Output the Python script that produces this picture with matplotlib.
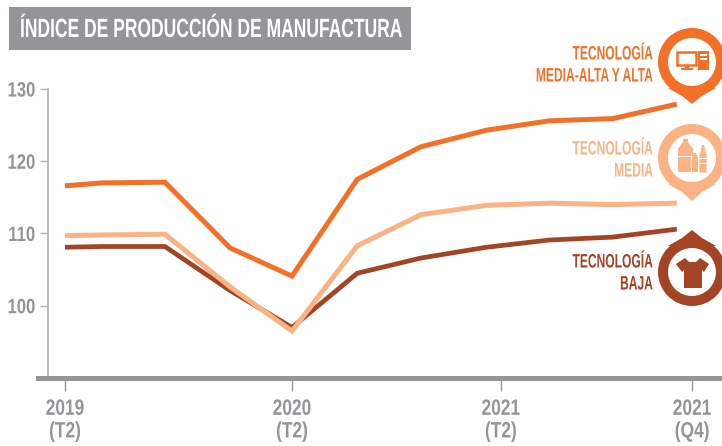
import matplotlib
matplotlib.use('Agg')
import matplotlib.pyplot as plt
from matplotlib.patches import Circle, Polygon, Rectangle, FancyBboxPatch
from matplotlib.patheffects import AbstractPathEffect
from matplotlib.transforms import Affine2D

W, H = 722, 446
GREY = '#939598'
ORANGE = '#F37029'
PEACH = '#FBB385'
BROWN = '#A34425'

# trimestres (posicion en el eje, en trimestres desde 2019 T2)
quarters = [0, 0.65, 1.76, 2.91, 4, 5.15, 6.27, 7.43, 8.54, 9.65, 10.78]
alta = [116.6, 117.0, 117.1, 108.0, 104.1, 117.5, 122.0, 124.3, 125.6, 125.9, 127.9]
media = [109.7, 109.8, 109.9, 102.6, 96.5, 108.3, 112.6, 113.9, 114.2, 114.0, 114.2]
baja = [108.1, 108.2, 108.2, 102.1, 97.0, 104.5, 106.6, 108.1, 109.1, 109.5, 110.6]

y_ticks = [100, 110, 120, 130]
x_ticks = [0, 4, 7.68, 11.05]
x_labels = ['2019\n(T2)', '2020\n(T2)', '2021\n(T2)', '2021\n(Q4)']

plt.rcParams['font.family'] = ['Liberation Sans', 'DejaVu Sans']
plt.rcParams['font.weight'] = 'bold'


# no hay fuente condensada: se comprime el texto en x alrededor de x0 (pixeles)
class Squeeze(AbstractPathEffect):
    def __init__(self, x0, sx):
        super().__init__()
        self.x0 = x0
        self.sx = sx

    def draw_path(self, renderer, gc, tpath, affine, rgbFace=None):
        t = affine + Affine2D().translate(-self.x0, 0).scale(self.sx, 1).translate(self.x0, 0)
        renderer.draw_path(gc, tpath, t, rgbFace)


fig = plt.figure(figsize=(W / 100, H / 100), dpi=100)

# eje principal: pixeles x 38-722, y 89-378
ax = fig.add_axes([38 / W, 1 - 378 / H, (W - 38) / W, (378 - 89) / H])
px_q = 56.75
ax.set_xlim((38 - 65) / px_q, (722 - 65) / px_q)
ax.set_ylim(90, 130)
ax.patch.set_visible(False)

ax.plot(quarters, baja, color=BROWN, lw=3.4, solid_capstyle='butt', solid_joinstyle='miter')
ax.plot(quarters, alta, color=ORANGE, lw=3.6, solid_capstyle='butt', solid_joinstyle='miter')
ax.plot(quarters, media, color=PEACH, lw=3.6, solid_capstyle='butt', solid_joinstyle='miter')

for s in ['top', 'right']:
    ax.spines[s].set_visible(False)
ax.spines['left'].set_position(('data', (48 - 65) / px_q))
ax.spines['left'].set_color('#B5B5B7')
ax.spines['left'].set_linewidth(1.3)
ax.spines['bottom'].set_color(GREY)
ax.spines['bottom'].set_linewidth(3.6)

ax.set_yticks(y_ticks)
ax.set_xticks(x_ticks)
ax.set_xticklabels(x_labels, linespacing=1.1)
ax.tick_params(axis='y', length=6, width=1, color='#B5B5B7', labelcolor=GREY, labelsize=15, pad=3)
ax.tick_params(axis='x', length=9, width=1, color=GREY, labelcolor=GREY, labelsize=16, pad=6)

for t in ax.get_yticklabels():
    t.set_path_effects([Squeeze(35.5, 0.8)])
for t, q in zip(ax.get_xticklabels(), x_ticks):
    t.set_path_effects([Squeeze(65 + q * px_q, 0.78)])

# capa en pixeles para titulo, etiquetas e iconos
ov = fig.add_axes([0, 0, 1, 1])
ov.set_xlim(0, W)
ov.set_ylim(H, 0)
ov.axis('off')
ov.patch.set_visible(False)

ov.add_patch(Rectangle((9, 7), 402, 43, color=GREY, lw=0))
title = ov.text(20, 30, 'ÍNDICE DE PRODUCCIÓN DE MANUFACTURA', color='white', fontsize=19,
                ha='left', va='center')
title.set_path_effects([Squeeze(20, 0.662)])


def pin(cy, tip, color):
    cx = 692
    d = 1 if tip > cy else -1
    ov.add_patch(Polygon([(cx - 24, cy + d * 26), (cx - 10, cy + d * 34), (cx, tip),
                          (cx + 10, cy + d * 34), (cx + 24, cy + d * 26)], color=color, lw=0))
    ov.add_patch(Circle((cx, cy), 34, color=color, lw=0))
    ov.add_patch(Circle((cx, cy), 24, color='white', lw=0))


def label(lines, ys, color):
    for s, y in zip(lines, ys):
        t = ov.text(653, y, s, color=color, fontsize=14, ha='right', va='center')
        t.set_path_effects([Squeeze(653, 0.62)])


pin(62, 104, ORANGE)
pin(158, 201, PEACH)
pin(272, 230, BROWN)

label(['TECNOLOGÍA', 'MEDIA-ALTA Y ALTA'], [55, 77], ORANGE)
label(['TECNOLOGÍA', 'MEDIA'], [150, 172], PEACH)
label(['TECNOLOGÍA', 'BAJA'], [263, 285], BROWN)

# computador
ov.add_patch(Rectangle((677, 52), 19, 13, fc='white', ec=ORANGE, lw=1.8))
ov.add_patch(Rectangle((685, 66), 4, 3, color=ORANGE, lw=0))
ov.add_patch(Rectangle((681, 68), 12, 2, color=ORANGE, lw=0))
ov.add_patch(Rectangle((698, 51), 11, 19, color=ORANGE, lw=0))
ov.add_patch(Rectangle((700, 54), 7, 1.5, color='white', lw=0))
ov.add_patch(Rectangle((700, 58), 7, 1.5, color='white', lw=0))

# botellas
ov.add_patch(FancyBboxPatch((679, 149), 13, 22, boxstyle='round,pad=1', color=PEACH, lw=0))
ov.add_patch(Polygon([(678, 149), (683, 142), (683, 139), (688, 139), (688, 142), (693, 149)],
                     color=PEACH, lw=0))
ov.add_patch(Rectangle((678, 156), 15, 1.2, color='white', lw=0))
ov.add_patch(FancyBboxPatch((692, 158), 6, 14, boxstyle='round,pad=0.6', fc=PEACH, ec='white', lw=0.8))
ov.add_patch(Polygon([(692, 158), (694, 153), (696, 153), (698, 158)], color=PEACH, lw=0))
ov.add_patch(FancyBboxPatch((700, 154), 6, 18, boxstyle='round,pad=0.6', color=PEACH, lw=0))
ov.add_patch(Polygon([(700, 154), (702, 145), (704, 145), (706, 154)], color=PEACH, lw=0))
ov.add_patch(Rectangle((699, 158), 8, 1.2, color='white', lw=0))
ov.add_patch(Rectangle((699, 163), 8, 1.2, color='white', lw=0))

# camiseta
ov.add_patch(Polygon([(685, 258), (676, 264), (682, 272), (684, 270), (684, 288), (702, 288),
                      (702, 270), (704, 272), (709, 264), (700, 258), (696, 262), (689, 262)],
                     color=BROWN, lw=0))

fig.savefig('out.png', dpi=100)
